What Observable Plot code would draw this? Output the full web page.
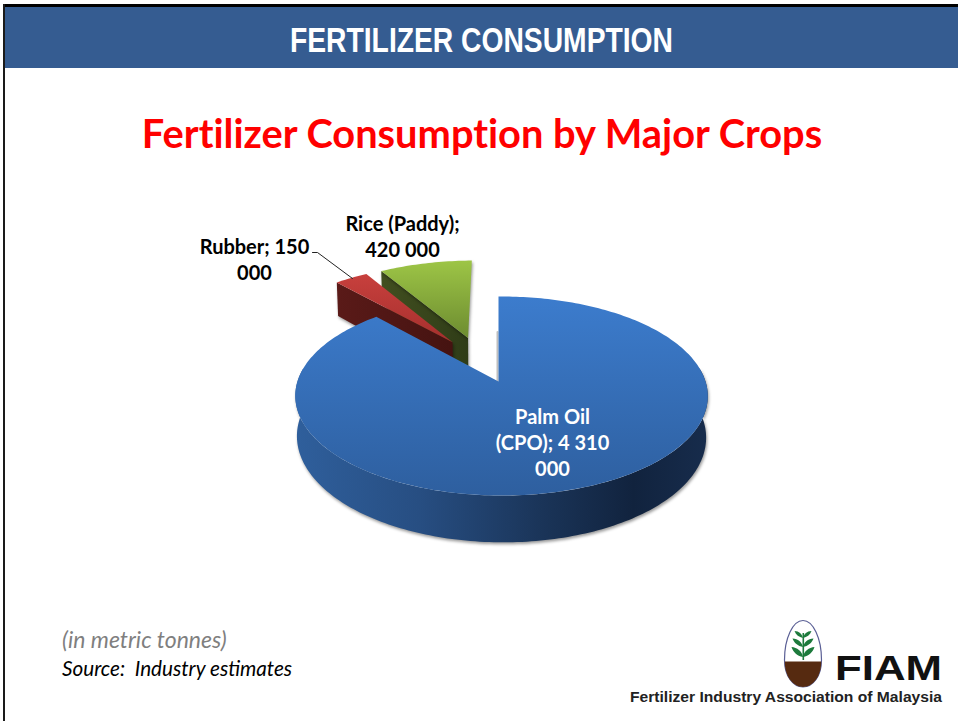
<!DOCTYPE html>
<html><head><meta charset="utf-8">
<script src="https://cdn.jsdelivr.net/npm/d3@7"></script>
<script src="https://cdn.jsdelivr.net/npm/@observablehq/plot@0.6"></script>
<style>
html,body{margin:0;padding:0;background:#fff;width:958px;height:721px;overflow:hidden}
#page{position:relative;width:958px;height:721px;overflow:hidden}
#topline{position:absolute;left:3px;right:0;top:4px;height:3px;background:#000}
#leftline{position:absolute;left:3px;top:4px;bottom:0;width:2px;background:#1a1a1a}
#band{position:absolute;left:5px;right:0;top:7px;height:61px;background:#355c91}
#band svg,#logo{position:absolute;left:0;top:0;overflow:visible}
#title{position:absolute;left:0;top:108px;width:964px;margin:0;text-align:center;font:700 39.8px Lato,sans-serif;font-variant-ligatures:none;color:#f00;line-height:50px}
#chart{position:absolute;left:0;top:170px}
#note{position:absolute;left:62px;top:625px;font:italic 20.7px/29px Lato,sans-serif;color:#000}
#note div:first-child{color:#7f7f7f;font-size:23px}
.shadow{filter:drop-shadow(1px 2px 1.5px rgba(0,0,0,.4))}
text{font-variant-ligatures:none}
</style></head><body>
<div id="page">
  <div id="band"><svg width="953" height="61"><text x="285" y="45" textLength="383" lengthAdjust="spacingAndGlyphs" font-family="Liberation Sans" font-weight="700" font-size="35" fill="#fff">FERTILIZER CONSUMPTION</text></svg></div>
  <div id="topline"></div><div id="leftline"></div>
  <h1 id="title">Fertilizer Consumption by Major Crops</h1>
  <div id="chart"></div>
  <div id="note"><div>(in metric tonnes)</div><div>Source:&nbsp; Industry estimates</div></div>
  <svg id="logo" width="958" height="721">
    <path d="M803 620.500C793 620.500 784.500 638 784.500 660C784.500 676 793 687 803 687C813 687 821.500 676 821.500 660C821.500 638 813 620.500 803 620.500Z" fill="#fff" stroke="#5a5f95" stroke-width="1.200"/>
    <path d="M784.800 661.500H821.200C821.500 676 813 687 803 687C793 687 784.500 676 784.800 661.500Z" fill="#562a10"/>
    <g fill="#1d7a3c"><path d="M802.500 660V633h1.600V660Z"/>
    <path d="M803 638C799 637 796 635 794.500 631C799 631 802 634 803 638ZM803 638C807 637 810 635 811.500 631C807 631 804 634 803 638Z"/>
    <path d="M803 647C798 646 794 643 792.500 638.500C798 639 802 642 803 647ZM803 647C808 646 812 643 813.500 638.500C808 639 804 642 803 647Z"/>
    <path d="M803 657C797 656 793 652 791.500 647C797 647.500 802 651 803 657ZM803 657C809 656 813 652 814.500 647C809 647.500 804 651 803 657Z"/></g>
    <text x="835" y="680" textLength="107" lengthAdjust="spacingAndGlyphs" font-family="Liberation Sans" font-weight="700" font-size="35" fill="#111">FIAM</text>
    <text x="630" y="702" textLength="312" lengthAdjust="spacingAndGlyphs" font-family="Liberation Sans" font-weight="700" font-size="14" fill="#222">Fertilizer Industry Association of Malaysia</text>
  </svg>
</div>
<script>
// Data (metric tonnes)
const crops = ["Palm Oil (CPO)", "Rubber", "Rice (Paddy)"];
const tonnes = [4310000, 150000, 420000];
const labelLines = ["Palm Oil\n(CPO); 4 310\n000", "Rubber; 150\n000", "Rice (Paddy);\n420 000"];

// Presentation of the 3D pie
const explodeU = [0, -0.24, -0.16];
const explodeV = [0, -0.43, -0.48];
const sliceScale = [1, 1.05, 1.04];
const labelX = [552, 254, 402];
const labelY = [441, 258, 235];
const labelFill = ["#fff", "#000", "#000"];
const leaderX = [312, 317, 352];
const leaderY = [252, 252, 278];
const topFill = ["url(#palmTop)", "url(#rubberTop)", "url(#riceTop)"];
const wallFill = ["url(#palmWall)", "url(#rubberWall)", "url(#riceWall)"];

const arcs = d3.pie().sort(null).startAngle(0).endAngle(2 * Math.PI)(tonnes);

// Perspective projection of the pie's plane on to the page
function project(u, v, depth) {
  const w = 1 - 0.1457 * v - 0.0146 * u;
  const shrink = depth ? 0.992 : 1;
  return {x: 498 + shrink * 204 * u / w, y: 381 + 97.4 * v / w + (depth ? 40 / w : 0)};
}
const rim = (i, a, depth) => project(explodeU[i] + sliceScale[i] * Math.sin(a), explodeV[i] - sliceScale[i] * Math.cos(a), depth);
const apex = (i, depth) => project(explodeU[i], explodeV[i], depth);
function sweep(a0, a1) {
  const n = Math.ceil(Math.abs(a1 - a0) / 0.02);
  return d3.range(n + 1).map(k => a0 + (a1 - a0) * k / n);
}
const topFace = i => [apex(i, false), ...sweep(arcs[i].startAngle, arcs[i].endAngle).map(a => rim(i, a, false))];
// the flat cut along the slice's starting edge, seen below the top face
const cutFace = (i, a) => [apex(i, false), rim(i, a, false), rim(i, a, true), apex(i, true)];
// the curved outer wall of the large slice
const d2r = Math.PI / 180;
const palmArc = sweep(82 * d2r, 278 * d2r);
const palmWall = [...palmArc.map(a => rim(0, a, false)), ...palmArc.slice().reverse().map(a => rim(0, a, true))];
// soft shade beside the upright cut of the large slice
const palmCutShade = [apex(0, false), project(0, -0.55, false)];

const face = (points, fill, className) => Plot.line(points, {x: "x", y: "y", fill, stroke: "none", className});
const defs = () => {
  const svg = d3.create("svg:defs");
  const grad = (id, horizontal, stops) => {
    const g = svg.append("linearGradient").attr("id", id)
      .attr("x1", 0).attr("y1", 0).attr("x2", horizontal ? 1 : 0).attr("y2", horizontal ? 0 : 1);
    stops.forEach(([o, c]) => g.append("stop").attr("offset", o).attr("stop-color", c));
  };
  grad("palmTop", false, [[0, "#3c7ccd"], [1, "#2e5f9f"]]);
  grad("palmWall", true, [[0, "#2f5f9c"], [0.3, "#274e82"], [0.6, "#1a3458"], [0.82, "#11233e"], [1, "#172c4c"]]);
  grad("rubberTop", false, [[0, "#c8403d"], [1, "#a52f2d"]]);
  grad("rubberWall", true, [[0, "#5a1a18"], [1, "#451311"]]);
  grad("riceTop", false, [[0, "#9dc546"], [1, "#6d8c30"]]);
  grad("riceWall", true, [[0, "#414f20"], [1, "#2f3c17"]]);
  return svg.node();
};

const plot = Plot.plot({
  width: 958, height: 430, margin: 0,
  style: {background: "transparent"},
  x: {domain: [0, 958], range: [0, 958], axis: null},
  y: {domain: [170, 600], range: [0, 430], axis: null},
  marks: [
    defs,
    face(cutFace(2, arcs[2].startAngle), wallFill[2], "shadow"),
    face(topFace(2), topFill[2], "shadow"),
    face(cutFace(1, arcs[1].startAngle), wallFill[1], "shadow"),
    face(topFace(1), topFill[1]),
    face(palmWall, wallFill[0], "shadow"),
    Plot.line(palmCutShade, {x: "x", y: "y", stroke: "#000", strokeOpacity: 0.25, strokeWidth: 2, dx: -1}),
    face(topFace(0), topFill[0]),
    Plot.line(leaderX.map((x, k) => ({x, y: leaderY[k]})), {x: "x", y: "y", stroke: "#222", strokeWidth: 1}),
    Plot.text(crops.map((c, i) => ({crop: c, label: labelLines[i], x: labelX[i], y: labelY[i], color: labelFill[i]})), {
      x: "x", y: "y", text: "label", fill: "color", fontSize: 20, fontWeight: 700,
      fontFamily: "Lato, sans-serif", lineHeight: 1.3, textAnchor: "middle"
    })
  ]
});
document.getElementById("chart").append(plot);
</script>
</body></html>
